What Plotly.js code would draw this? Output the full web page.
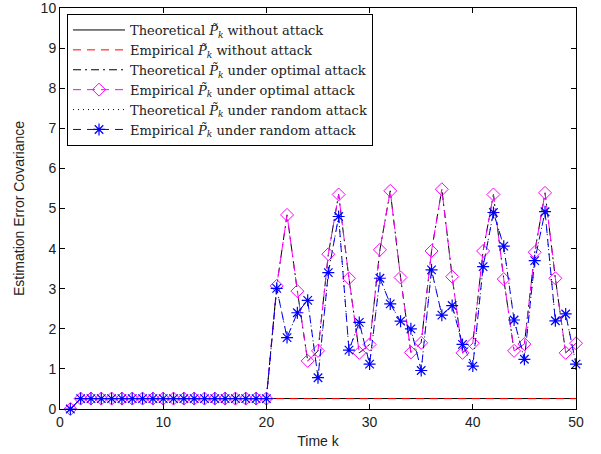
<!DOCTYPE html>
<html>
<head>
<meta charset="utf-8">
<script src="https://cdn.plot.ly/plotly-3.0.1.min.js"></script>
<style>html,body{margin:0;padding:0;background:#fff;}#chart{width:601px;height:454px;}</style>
</head>
<body>
<div id="chart"></div>
<script>
const timeK = [1,2,3,4,5,6,7,8,9,10,11,12,13,14,15,16,17,18,19,20,21,22,23,24,25,26,27,28,29,30,31,32,33,34,35,36,37,38,39,40,41,42,43,44,45,46,47,48,49,50];

const theoNoAttack = [0,0.26,0.26,0.26,0.26,0.26,0.26,0.26,0.26,0.26,0.26,0.26,0.26,0.26,0.26,0.26,0.26,0.26,0.26,0.26,0.26,0.26,0.26,0.26,0.26,0.26,0.26,0.26,0.26,0.26,0.26,0.26,0.26,0.26,0.26,0.26,0.26,0.26,0.26,0.26,0.26,0.26,0.26,0.26,0.26,0.26,0.26,0.26,0.26,0.26];
const empNoAttack  = [0,0.26,0.26,0.26,0.26,0.26,0.26,0.26,0.26,0.26,0.26,0.26,0.26,0.26,0.26,0.26,0.26,0.26,0.26,0.26,0.26,0.26,0.26,0.26,0.26,0.26,0.26,0.26,0.26,0.26,0.26,0.26,0.26,0.26,0.26,0.26,0.26,0.26,0.26,0.26,0.26,0.26,0.26,0.26,0.26,0.26,0.26,0.26,0.26,0.26];

const theoOptimal = [0,0.26,0.26,0.26,0.26,0.26,0.26,0.26,0.26,0.26,0.26,0.26,0.26,0.26,0.26,0.26,0.26,0.26,0.26,0.26,
  3.07,4.84,2.94,1.20,1.45,3.86,5.35,3.26,1.40,1.61,
  3.97,5.44,3.28,1.41,1.65,3.94,5.48,3.30,1.40,1.64,
  3.94,5.35,3.24,1.45,1.62,3.91,5.39,3.26,1.40,1.64];
const empOptimal = [0,0.26,0.26,0.26,0.26,0.26,0.26,0.26,0.26,0.26,0.26,0.26,0.26,0.26,0.26,0.26,0.26,0.26,0.26,0.26,
  3.07,4.84,2.94,1.20,1.45,3.86,5.35,3.26,1.40,1.61,
  3.97,5.44,3.28,1.41,1.65,3.94,5.48,3.30,1.40,1.64,
  3.94,5.35,3.24,1.45,1.62,3.91,5.39,3.26,1.40,1.64];

const theoRandom = [0,0.26,0.26,0.26,0.26,0.26,0.26,0.26,0.26,0.26,0.26,0.26,0.26,0.26,0.26,0.26,0.26,0.26,0.26,0.26,
  3.01,1.78,2.40,2.71,0.78,3.40,4.80,1.47,2.16,1.12,
  3.26,2.62,2.19,2.00,0.96,3.47,2.34,2.58,1.61,1.07,
  3.55,4.90,4.06,2.22,1.24,3.70,4.92,2.20,2.37,1.12];
const empRandom = [0,0.26,0.26,0.26,0.26,0.26,0.26,0.26,0.26,0.26,0.26,0.26,0.26,0.26,0.26,0.26,0.26,0.26,0.26,0.26,
  3.01,1.78,2.40,2.71,0.78,3.40,4.80,1.47,2.16,1.12,
  3.26,2.62,2.19,2.00,0.96,3.47,2.34,2.58,1.61,1.07,
  3.55,4.90,4.06,2.22,1.24,3.70,4.92,2.20,2.37,1.12];

const legendNames = [
  "Theoretical <i>P̃</i><sub><i>k</i></sub> without attack",
  "Empirical <i>P̃</i><sub><i>k</i></sub> without attack",
  "Theoretical <i>P̃</i><sub><i>k</i></sub> under optimal attack",
  "Empirical <i>P̃</i><sub><i>k</i></sub> under optimal attack",
  "Theoretical <i>P̃</i><sub><i>k</i></sub> under random attack",
  "Empirical <i>P̃</i><sub><i>k</i></sub> under random attack"
];
const xTicks = [0,10,20,30,40,50];
const yTicks = [0,1,2,3,4,5,6,7,8,9,10];

const traces = [
  {x: timeK, y: theoNoAttack, name: legendNames[0], mode: 'lines', line: {color: '#000000', width: 1}, cliponaxis: false},
  {x: timeK, y: empNoAttack, name: legendNames[1], mode: 'lines', line: {color: '#ff0000', width: 1, dash: '8px,6px'}, cliponaxis: false},
  {x: timeK, y: theoOptimal, name: legendNames[2], mode: 'lines', line: {color: '#000000', width: 1, dash: '8px,4px,2px,4px'}, cliponaxis: false},
  {x: timeK, y: empOptimal, name: legendNames[3], mode: 'lines+markers', line: {color: '#ff00ff', width: 1, dash: '8px,6px'},
    marker: {symbol: 'diamond-open', size: 10, color: '#ff00ff', line: {width: 1, color: '#ff00ff'}}, cliponaxis: false},
  {x: timeK, y: theoRandom, name: legendNames[4], mode: 'lines', line: {color: '#000000', width: 1, dash: '1px,4px'}, cliponaxis: false},
  {x: timeK, y: empRandom, name: legendNames[5], mode: 'lines+markers', line: {color: '#0000ff', width: 1, dash: '8px,6px'},
    marker: {symbol: 'asterisk-open', size: 10, color: '#0000ff', line: {width: 1.2, color: '#0000ff'}}, cliponaxis: false}
];

const axisCommon = {
  showgrid: false, zeroline: false, showline: true, linecolor: '#000', linewidth: 1,
  mirror: 'ticks', ticks: 'inside', ticklen: 5, tickcolor: '#000',
  ticklabeloverflow: 'allow',
  tickfont: {family: 'Liberation Sans, Arial, sans-serif', size: 14, color: '#222'}
};

const layout = {
  width: 601, height: 454,
  margin: {l: 60, r: 25, t: 8, b: 45},
  paper_bgcolor: '#fff', plot_bgcolor: '#fff',
  showlegend: true,
  xaxis: Object.assign({}, axisCommon, {range: [0, 50], tickvals: xTicks, ticktext: xTicks.map(String),
    title: {text: 'Time k', standoff: 7, font: {family: 'Liberation Sans, Arial, sans-serif', size: 14, color: '#222'}}}),
  yaxis: Object.assign({}, axisCommon, {range: [0, 10], tickvals: yTicks, ticktext: yTicks.map(String),
    title: {text: 'Estimation Error Covariance', standoff: 12, font: {family: 'Liberation Sans, Arial, sans-serif', size: 14, color: '#222'}}}),
  legend: {
    x: 0.0136, y: 0.985, xanchor: 'left', yanchor: 'top',
    bgcolor: '#fff', bordercolor: '#000', borderwidth: 1,
    font: {family: 'DejaVu Serif, serif', size: 13, color: '#222'},
    tracegroupgap: 0, itemwidth: 52
  }
};

Plotly.newPlot('chart', traces, layout, {displayModeBar: false, staticPlot: true});
</script>
</body>
</html>
